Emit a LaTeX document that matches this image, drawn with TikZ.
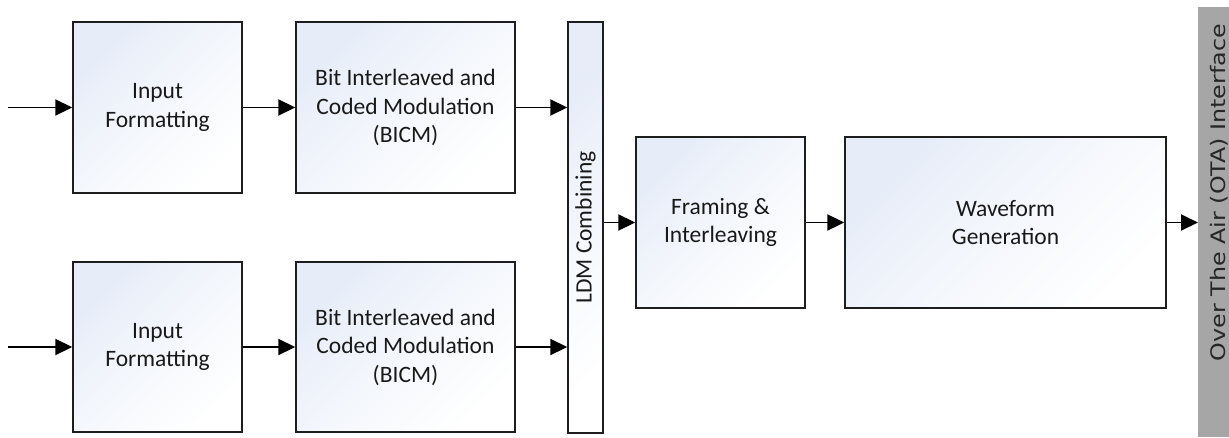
\documentclass[tikz,border=0pt]{standalone}
\usepackage{fontspec}
\setmainfont{Carlito}
\newfontfamily\otafont{DejaVu Sans}
\usetikzlibrary{arrows.meta}
\definecolor{boxtop}{RGB}{230,236,248}
\definecolor{boxmid}{RGB}{244,247,252}
\definecolor{edge}{RGB}{30,30,30}
\definecolor{otagray}{RGB}{166,166,166}
\tikzset{
  blk/.style={draw=edge, line width=1.4pt, top color=boxtop, bottom color=white, middle color=boxmid, shading angle=45,
    align=center, inner sep=0pt, text=black!90, font=\fontsize{23.5}{28.5}\selectfont},
  conn/.style={line width=1.9pt, -{Triangle[length=17pt,width=16pt]}},
}
\begin{document}
\begin{tikzpicture}[x=1pt,y=-1pt]
\useasboundingbox (0,0) rectangle (1229,437);
% OTA bar
\fill[otagray] (1198,7) rectangle (1229,437);
\node[rotate=90, anchor=base, font=\otafont\fontsize{20}{24}\selectfont, text=black!85, inner sep=0pt] (ota) at (1225,192.5) {\scalebox{1.19}[1]{Over The Air (OTA) Interface}};
\coordinate (otain) at (1198,222.5);
% blocks
\node[blk, minimum width=169pt, minimum height=171pt] (if1) at (157.5,107.5) {Input\\Formatting};
\node[blk, minimum width=219pt, minimum height=171pt] (bi1) at (405.5,107.5) {Bit Interleaved and\\Coded Modulation\\(BICM)};
\node[blk, minimum width=169pt, minimum height=170pt] (if2) at (157.5,347) {Input\\Formatting};
\node[blk, minimum width=219pt, minimum height=170pt] (bi2) at (405.5,347) {Bit Interleaved and\\Coded Modulation\\(BICM)};
\node[blk, minimum width=35pt, minimum height=411pt] (ldm) at (585.5,227.5) {};
\node[rotate=90, font=\fontsize{23.5}{28.5}\selectfont, text=black!90, inner sep=0pt] (ldmt) at (ldm.center) {LDM Combining};
\node[blk, minimum width=169pt, minimum height=171pt] (fr) at (720.5,222.5) {Framing \&\\Interleaving};
\node[blk, minimum width=321pt, minimum height=171pt] (wf) at (1005.5,222.5) {Waveform\\Generation};
% inputs
\coordinate (in1) at (8,107.5);
\coordinate (in2) at (8,347);
\draw[conn] (in1) -- (if1.west);
\draw[conn] (in2) -- (if2.west);
\draw[conn] (if1.east) -- (bi1.west);
\draw[conn] (if2.east) -- (bi2.west);
\draw[conn] (bi1.east) -- (bi1.east -| ldm.west);
\draw[conn] (bi2.east) -- (bi2.east -| ldm.west);
\draw[conn] (fr.west -| ldm.east) -- (fr.west);
\draw[conn] (fr.east) -- (wf.west);
\draw[conn] (wf.east) -- (otain);
\end{tikzpicture}
\end{document}
